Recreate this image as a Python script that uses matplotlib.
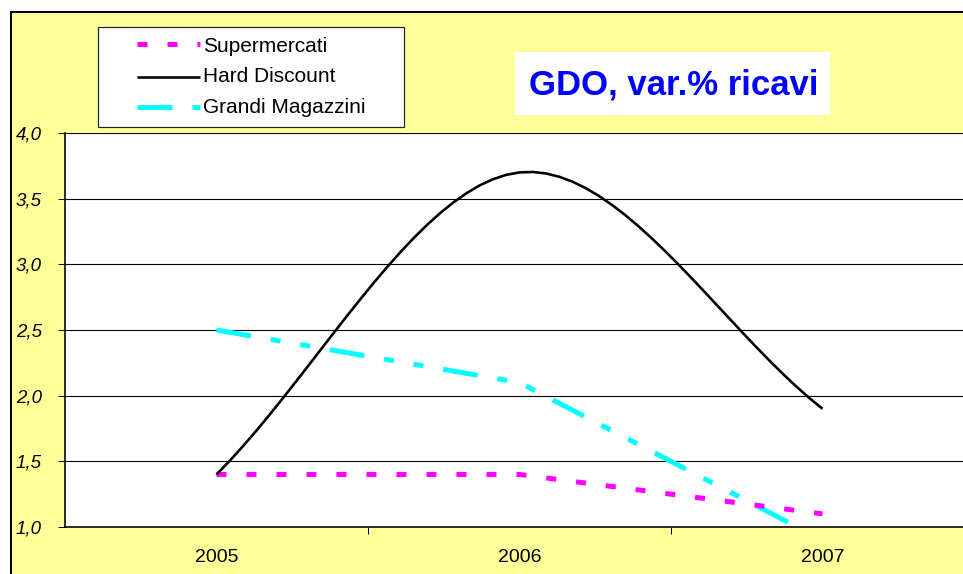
import numpy as np
import matplotlib
matplotlib.use("Agg")
import matplotlib.pyplot as plt
from matplotlib.patches import Rectangle
from matplotlib.lines import Line2D
from matplotlib.ticker import FixedLocator, FuncFormatter

# ---------------- data ----------------
years = ['2005', '2006', '2007']
supermercati = [1.4, 1.4, 1.1]
hard_discount = [1.4, 3.7, 1.9]
grandi_magazzini = [2.5, 2.1, 0.9]
series_names = ['Supermercati', 'Hard Discount', 'Grandi Magazzini']
smoothed = {'Supermercati': False, 'Hard Discount': True, 'Grandi Magazzini': False}
y_ticks = [1.0, 1.5, 2.0, 2.5, 3.0, 3.5, 4.0]
title_text = 'GDO, var.% ricavi'

plt.rcParams['lines.scale_dashes'] = False
W, H = 963, 574
PX = 0.72  # points per pixel at 100 dpi

fig = plt.figure(figsize=(W / 100, H / 100), dpi=100, facecolor='white')

def fx(x):
    return x / W

def fy(y):
    return 1 - y / H

# yellow outer panel
fig.add_artist(Rectangle((fx(11), -0.05), 1.2, fy(12) + 0.05, transform=fig.transFigure,
                         facecolor='#FFFF99', edgecolor='black', lw=2 * PX, zorder=-10))

ax = fig.add_axes([fx(65), fy(527), fx(974) - fx(65), fy(133) - fy(527)])
ax.set_facecolor('white')


def smooth(xs, ys, n=24):
    """Catmull-Rom style cubic Hermite through the points (chord slope at the ends)."""
    xs = np.asarray(xs, float)
    ys = np.asarray(ys, float)
    m = len(xs)
    tang = np.zeros(m)
    for i in range(m):
        if i == 0:
            tang[i] = (ys[1] - ys[0]) / (xs[1] - xs[0])
        elif i == m - 1:
            tang[i] = (ys[-1] - ys[-2]) / (xs[-1] - xs[-2])
        else:
            tang[i] = (ys[i + 1] - ys[i - 1]) / (xs[i + 1] - xs[i - 1])
    ox, oy = [], []
    for i in range(m - 1):
        h = xs[i + 1] - xs[i]
        t = np.linspace(0, 1, n)
        if i > 0:
            t = t[1:]
        h00 = 2 * t ** 3 - 3 * t ** 2 + 1
        h10 = t ** 3 - 2 * t ** 2 + t
        h01 = -2 * t ** 3 + 3 * t ** 2
        h11 = t ** 3 - t ** 2
        ox.append(xs[i] + t * h)
        oy.append(h00 * ys[i] + h10 * h * tang[i] + h01 * ys[i + 1] + h11 * h * tang[i + 1])
    return np.concatenate(ox), np.concatenate(oy)


xs = np.arange(len(years))
styles = {
    'Supermercati': dict(color='#FF00FF', lw=5 * PX, dashes=(10 * PX, 20 * PX)),
    'Hard Discount': dict(color='black', lw=2.6 * PX),
    'Grandi Magazzini': dict(color='#00FFFF', lw=5 * PX,
                             dashes=(35 * PX, 20 * PX, 10 * PX, 20 * PX, 10 * PX, 20 * PX)),
}
data = {'Supermercati': supermercati, 'Hard Discount': hard_discount,
        'Grandi Magazzini': grandi_magazzini}

for name in ['Grandi Magazzini', 'Supermercati', 'Hard Discount']:
    if smoothed[name]:
        sx, sy = smooth(xs, data[name])
    else:
        sx, sy = xs, data[name]
    st = styles[name]
    kw = dict(color=st['color'], lw=st['lw'], solid_capstyle='butt', dash_capstyle='butt',
              solid_joinstyle='miter', dash_joinstyle='miter', zorder=3)
    if 'dashes' in st:
        kw['dashes'] = st['dashes']
    ax.plot(sx, sy, **kw)

ax.set_xlim(-0.5, 2.5)
ax.set_ylim(1.0, 4.0)

for s in ['top', 'right']:
    ax.spines[s].set_visible(False)
for s in ['left', 'bottom']:
    ax.spines[s].set_color('black')
    ax.spines[s].set_linewidth(1.6 * PX)
    ax.spines[s].set_zorder(4)

ax.yaxis.set_major_locator(FixedLocator(y_ticks))
ax.yaxis.set_major_formatter(FuncFormatter(lambda v, p: f'{v:.1f}'.replace('.', ',')))
ax.yaxis.grid(True, color='black', lw=1.1 * PX, zorder=1)
ax.set_axisbelow(True)
ax.tick_params(axis='y', which='major', direction='out', length=7 * PX, width=1 * PX,
               color='black', pad=16 * PX, labelsize=13.5)
for lab in ax.get_yticklabels():
    lab.set_fontstyle('italic')
    lab.set_family(['Liberation Sans', 'DejaVu Sans'])

ax.xaxis.set_major_locator(FixedLocator([0.5, 1.5]))
ax.xaxis.set_major_formatter(FuncFormatter(lambda v, p: ''))
ax.xaxis.set_minor_locator(FixedLocator(list(xs)))
ax.set_xticks(list(xs), years, minor=True)
ax.tick_params(axis='x', which='major', direction='out', length=7 * PX, width=1 * PX, color='black')
ax.tick_params(axis='x', which='minor', length=0, pad=22 * PX, labelsize=14)
for lab in ax.get_xticklabels(minor=True):
    lab.set_family(['Liberation Sans', 'DejaVu Sans'])

# ---------------- legend ----------------
fig.add_artist(Rectangle((fx(98), fy(127)), fx(404) - fx(98), fy(27) - fy(127),
                         transform=fig.transFigure, facecolor='white', edgecolor='#222222',
                         lw=1.2 * PX, zorder=5))
rows = [('Supermercati', 44, 51.5), ('Hard Discount', 76.5, 82), ('Grandi Magazzini', 107, 113)]
for name, ly, by in rows:
    st = styles[name]
    kw = dict(color=st['color'], lw=st['lw'], solid_capstyle='butt', dash_capstyle='butt',
              transform=fig.transFigure, zorder=6)
    if 'dashes' in st:
        kw['dashes'] = st['dashes']
    fig.add_artist(Line2D([fx(137), fx(200)], [fy(ly), fy(ly)], **kw))
    fig.text(fx(203), fy(by), name, ha='left', va='baseline', fontsize=15, color='black',
             family=['Liberation Sans', 'DejaVu Sans'], zorder=7)

# ---------------- title box ----------------
fig.add_artist(Rectangle((fx(515), fy(115)), fx(830) - fx(515), fy(52) - fy(115),
                         transform=fig.transFigure, facecolor='white', edgecolor='none', zorder=5))
fig.text(fx(674), fy(95), title_text, ha='center', va='baseline', fontsize=25,
         fontweight='bold', color='#0000FF', family=['Liberation Sans', 'DejaVu Sans'], zorder=7)

fig.savefig('out.png', dpi=100, facecolor='white')
